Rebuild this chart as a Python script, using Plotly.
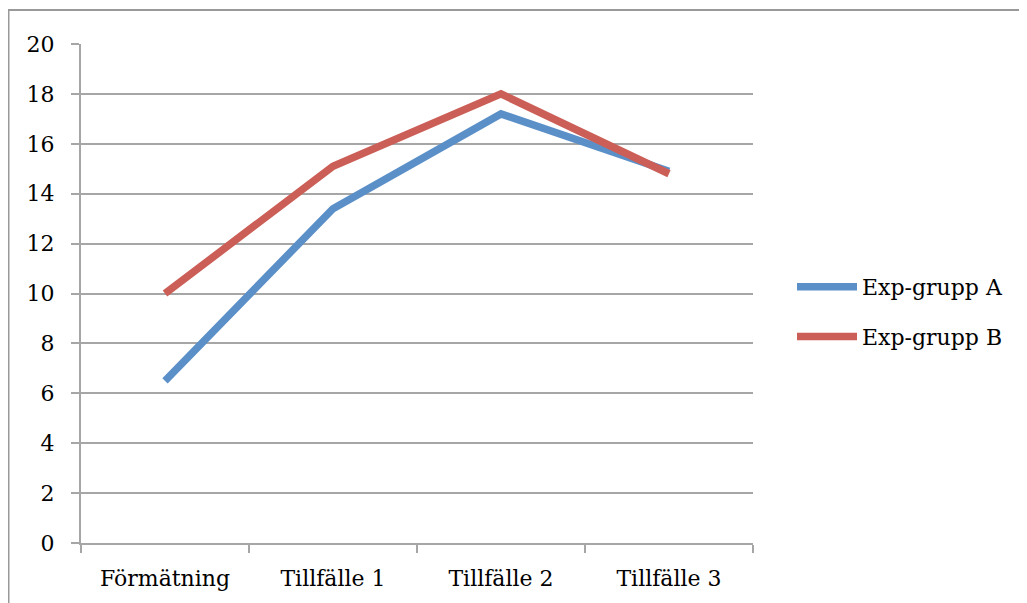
import plotly.graph_objects as go

categories = ["Förmätning", "Tillfälle 1", "Tillfälle 2", "Tillfälle 3"]
series_a = [6.5, 13.4, 17.2, 14.9]
series_b = [10.0, 15.1, 18.0, 14.8]
y_ticks = list(range(0, 21, 2))

W, H = 1027, 603
OFF = 8  # page body margin
L, R, T, B = 81 - OFF, 753 - OFF, 44 - OFF, 543 - OFF
FONT = "DejaVu Serif"
FS = 22
GRID = "#a6a6a6"

fig = go.Figure()
fig.add_trace(go.Scatter(x=categories, y=series_a, mode="lines", name="Exp-grupp A",
                         legendgroup="a",
                         line=dict(color="#5b8fc8", width=7.5)))
fig.add_trace(go.Scatter(x=categories, y=series_b, mode="lines", name="Exp-grupp B",
                         legendgroup="b",
                         line=dict(color="#cb5f57", width=7.5)))

def px_x(p):
    return (p - OFF - L) / (R - L)

def px_y(p):
    return (B - (p - OFF)) / (B - T)

fig.add_shape(type="rect", xref="paper", yref="paper",
              x0=px_x(OFF + 0.5), x1=px_x(1060), y0=px_y(640), y1=px_y(10),
              line=dict(color="#999999", width=2), fillcolor="rgba(0,0,0,0)", layer="below")

fig.update_layout(
    width=W, height=H,
    margin=dict(l=L, r=W - R, t=T, b=H - B),
    paper_bgcolor="white", plot_bgcolor="white",
    font=dict(family=FONT, size=FS, color="#000000"),
    showlegend=True,
    legend=dict(x=px_x(792), y=px_y(266), xanchor="left", yanchor="top",
                font=dict(family=FONT, size=FS, color="#000000"),
                tracegroupgap=18, itemwidth=60, bgcolor="rgba(0,0,0,0)"),
    xaxis=dict(type="category", showgrid=False, showline=True, linecolor=GRID, linewidth=2,
               ticks="outside", tickson="boundaries", ticklen=8, tickcolor=GRID, tickwidth=2,
               ticklabelstandoff=15,
               tickfont=dict(family=FONT, size=FS), range=[-0.5, 3.5], fixedrange=True),
    yaxis=dict(range=[0, 20], tickvals=y_ticks, showgrid=True, gridcolor=GRID, gridwidth=2,
               showline=True, linecolor=GRID, linewidth=2, zeroline=False,
               ticks="outside", ticklen=8, tickcolor=GRID, tickwidth=2,
               ticklabelstandoff=12,
               tickfont=dict(family=FONT, size=FS), fixedrange=True),
)

fig.write_html("out.html")
